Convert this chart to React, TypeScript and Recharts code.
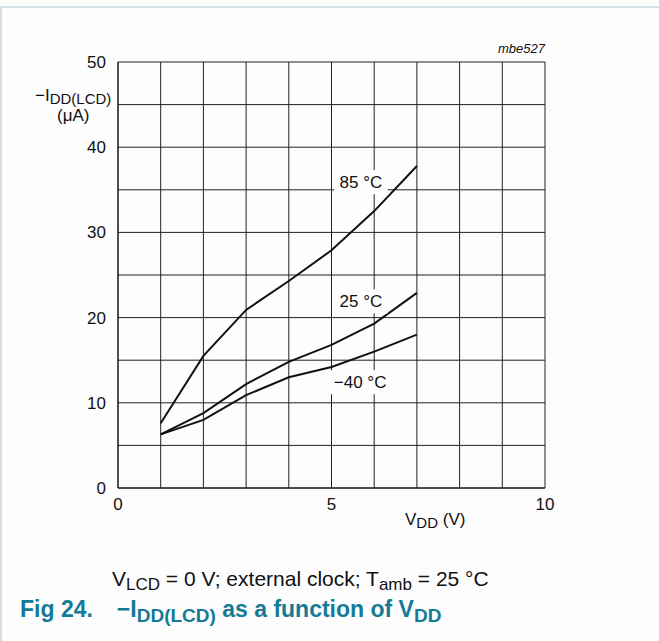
import { CartesianGrid, Line, LineChart, ReferenceDot, XAxis, YAxis } from "recharts";

const vdd = [1, 2, 3, 4, 5, 6, 7];
const i85 = [7.6, 15.5, 20.9, 24.3, 27.9, 32.5, 37.8];
const i25 = [6.3, 8.8, 12.2, 14.8, 16.8, 19.3, 22.9];
const iMinus40 = [6.3, 8.0, 10.9, 13.0, 14.2, 16.0, 18.0];

const xTicks = [0, 1, 2, 3, 4, 5, 6, 7, 8, 9, 10];
const yTicks = [0, 5, 10, 15, 20, 25, 30, 35, 40, 45, 50];
const xLabelled = [0, 5, 10];
const yLabelled = [0, 10, 20, 30, 40, 50];

const curveLabels = [
  { text: "85 °C", x: 5.69, y: 35.9 },
  { text: "25 °C", x: 5.69, y: 21.9 },
  { text: "\u221240 °C", x: 5.67, y: 12.4 },
];

const data = vdd.map((v, i) => ({ vdd: v, t85: i85[i], t25: i25[i], tm40: iMinus40[i] }));

const font = "'Liberation Sans', Arial, sans-serif";
const teal = "#157a96";

function CurveLabel(props: any) {
  const { cx, cy, text } = props;
  const w = text.length * 9.5 + 6;
  return (
    <g>
      <rect x={cx - w / 2} y={cy - 12} width={w} height={24} fill="#fdfdfd" />
      <text x={cx} y={cy} textAnchor="middle" dominantBaseline="central" fontSize={17} fontFamily={font} fill="#111">
        {text}
      </text>
    </g>
  );
}

export default function App() {
  return (
    <div style={{ position: "absolute", left: 0, top: 0, width: 659, height: 641, background: "#fdfdfd", fontFamily: font, color: "#111" }}>
      <div style={{ position: "absolute", left: 0, top: 6, width: 657, height: 633, borderTop: "2px solid #d3e0e6", borderLeft: "2px solid #d3e0e6" }} />
      <LineChart width={659} height={641} data={data} margin={{ top: 62, right: 114, bottom: 123, left: 58 }} style={{ position: "absolute", left: 0, top: 0 }}>
        <CartesianGrid stroke="#222" strokeWidth={1} horizontalValues={yTicks} verticalValues={xTicks} />
        <XAxis
          type="number"
          dataKey="vdd"
          domain={[0, 10]}
          ticks={xTicks}
          height={30}
          tickSize={0}
          tickMargin={10}
          axisLine={{ stroke: "#111" }}
          tickLine={false}
          tick={{ fill: "#111", fontSize: 17, fontFamily: font }}
          tickFormatter={(v: number) => (xLabelled.includes(v) ? String(v) : "")}
        />
        <YAxis
          type="number"
          domain={[0, 50]}
          ticks={yTicks}
          width={60}
          tickSize={0}
          tickMargin={12}
          axisLine={{ stroke: "#111" }}
          tickLine={false}
          tick={{ fill: "#111", fontSize: 17, fontFamily: font }}
          tickFormatter={(v: number) => (yLabelled.includes(v) ? String(v) : "")}
        />
        {curveLabels.map((l) => (
          <ReferenceDot key={l.text} x={l.x} y={l.y} r={1} ifOverflow="visible" shape={(p: any) => <CurveLabel {...p} text={l.text} />} />
        ))}
        <Line type="linear" dataKey="t85" stroke="#111" strokeWidth={2} dot={false} isAnimationActive={false} />
        <Line type="linear" dataKey="t25" stroke="#111" strokeWidth={2} dot={false} isAnimationActive={false} />
        <Line type="linear" dataKey="tm40" stroke="#111" strokeWidth={2} dot={false} isAnimationActive={false} />
      </LineChart>

      <div style={{ position: "absolute", right: 659 - 545, top: 41, fontSize: 13, fontStyle: "italic" }}>mbe527</div>
      <div style={{ position: "absolute", left: 35, top: 86, fontSize: 17, whiteSpace: "nowrap" }}>
        {"\u2212I"}
        <sub style={{ fontSize: 15, verticalAlign: "-3px" }}>DD(LCD)</sub>
      </div>
      <div style={{ position: "absolute", left: 57, top: 106, fontSize: 17 }}>({"\u03bc"}A)</div>
      <div style={{ position: "absolute", left: 405, top: 510, fontSize: 17, whiteSpace: "nowrap" }}>
        V<sub style={{ fontSize: 15, verticalAlign: "-3px" }}>DD</sub> (V)
      </div>
      <div style={{ position: "absolute", left: 112, top: 567, fontSize: 21, whiteSpace: "nowrap" }}>
        V<sub style={{ fontSize: 17, verticalAlign: "-4px" }}>LCD</sub> = 0 V; external clock; T
        <sub style={{ fontSize: 17, verticalAlign: "-4px" }}>amb</sub> = 25 °C
      </div>
      <div style={{ position: "absolute", left: 20, top: 596, fontSize: 23, fontWeight: "bold", color: teal, whiteSpace: "nowrap" }}>
        Fig 24.
        <span style={{ marginLeft: 24 }}>{"\u2212I"}</span>
        <sub style={{ fontSize: 19, verticalAlign: "-5px" }}>DD(LCD)</sub> as a function of V
        <sub style={{ fontSize: 19, verticalAlign: "-5px" }}>DD</sub>
      </div>
    </div>
  );
}
